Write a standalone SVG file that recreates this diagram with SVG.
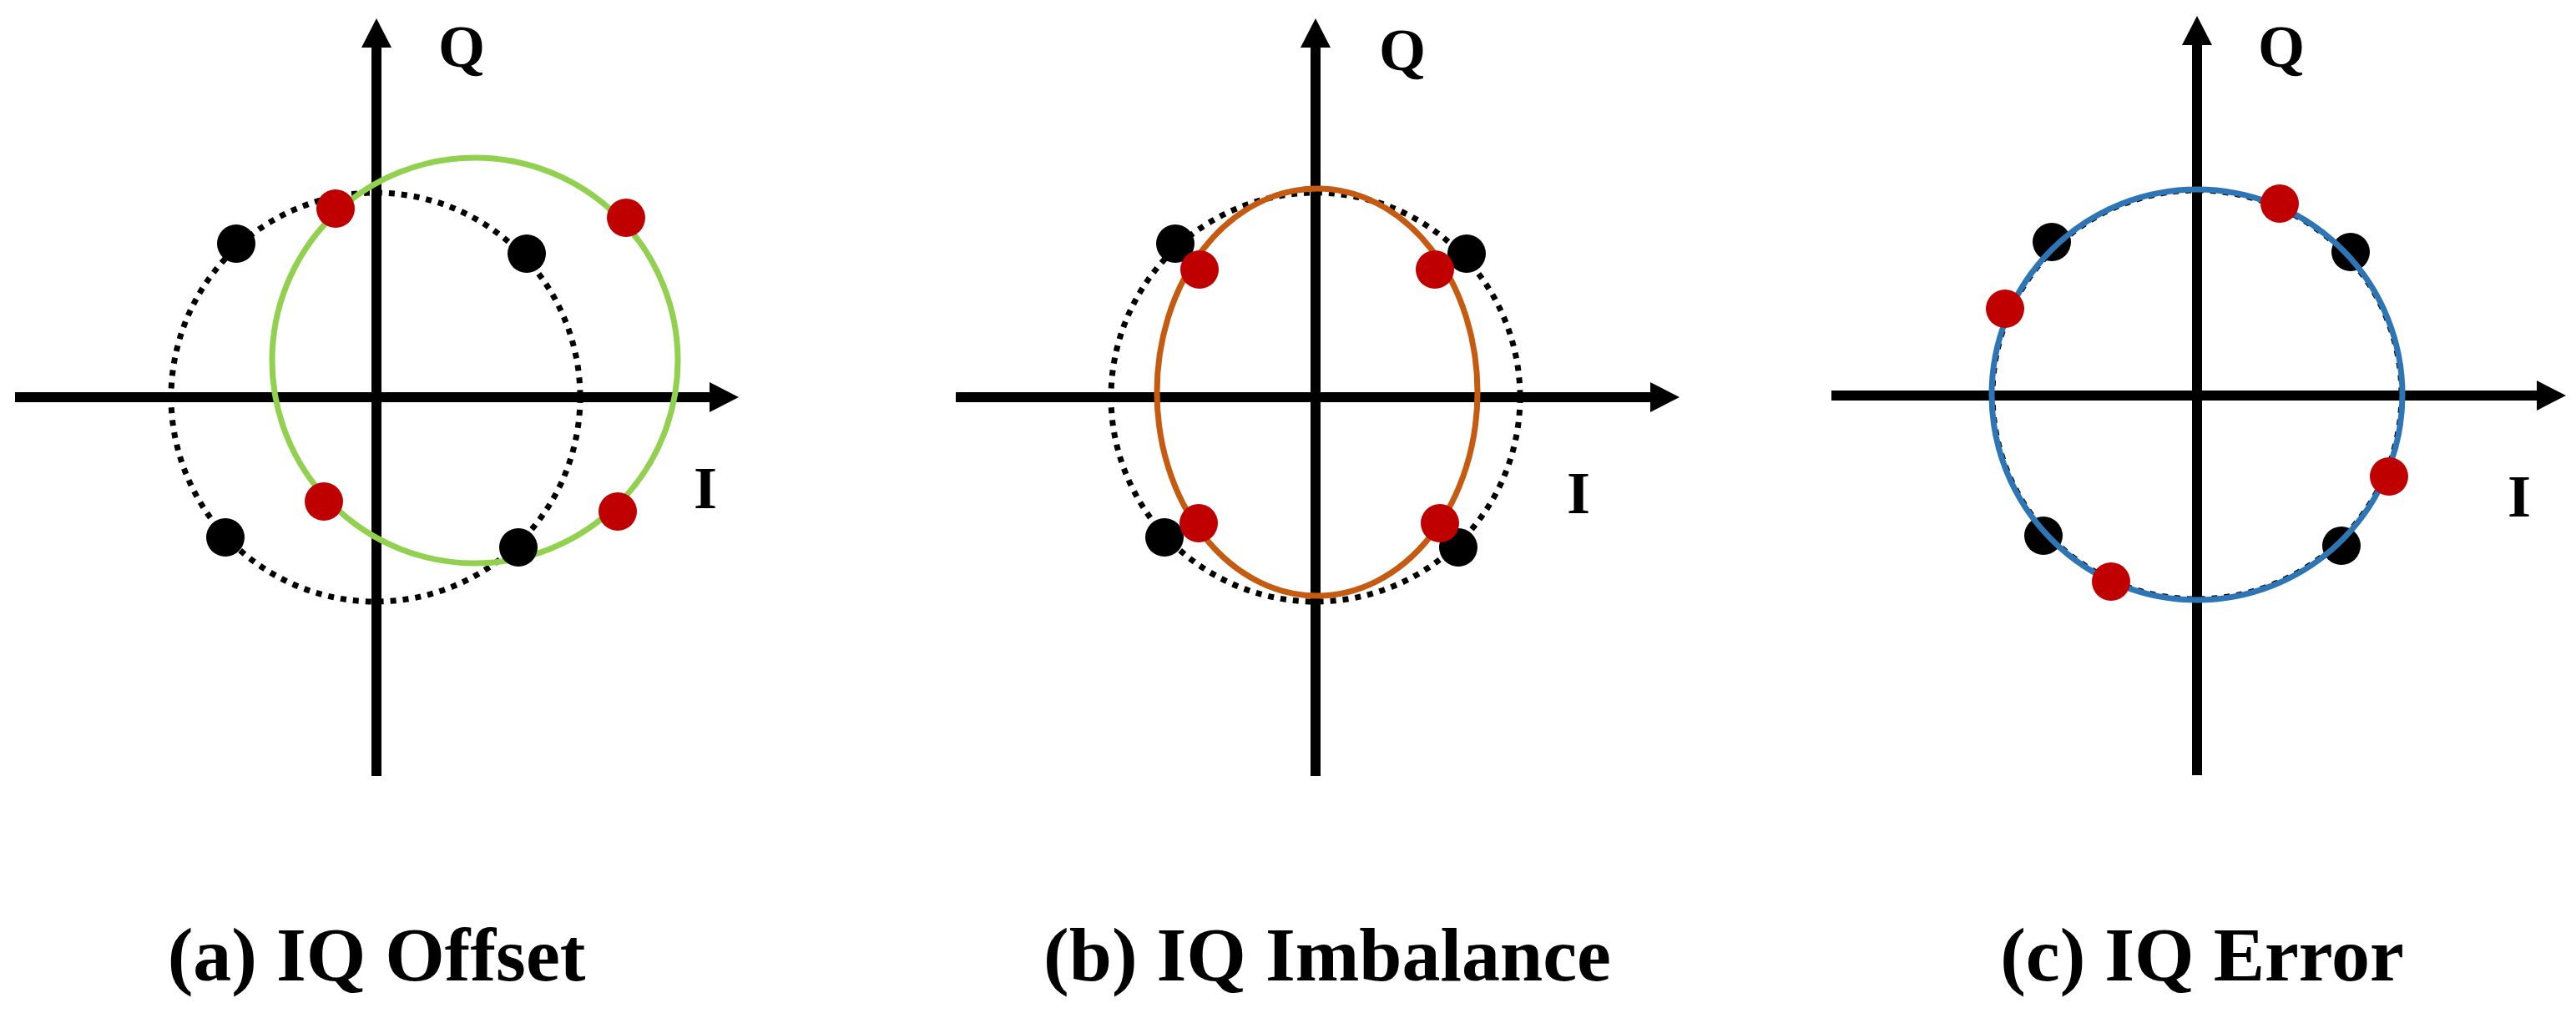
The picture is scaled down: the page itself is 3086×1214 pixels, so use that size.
<svg xmlns="http://www.w3.org/2000/svg" width="3086" height="1214" viewBox="0 0 3086 1214">
<style>
.axis{stroke:#000;stroke-width:12;fill:none;marker-end:url(#arr)}
.dot{fill:none;stroke:#000;stroke-width:7;stroke-dasharray:7 8}
.blk{fill:#000}
.red{fill:#C00000}
.lbl{font-family:"Liberation Serif","Times New Roman",serif;font-weight:bold;font-size:72px;fill:#000;text-anchor:middle}
.cap{font-family:"Liberation Serif","Times New Roman",serif;font-weight:bold;font-size:92px;fill:#000;text-anchor:middle}
</style>
<defs>
<marker id="arr" markerUnits="userSpaceOnUse" markerWidth="36" markerHeight="36" refX="0" refY="18" orient="auto">
<path d="M0,0 L35,18 L0,36 Z" fill="#000"/>
</marker>
</defs>
<rect width="3086" height="1214" fill="#fff"/>
<g id="connectors">
<line class="axis" x1="451" y1="930" x2="451" y2="57"/>
<line class="axis" x1="18" y1="476" x2="850" y2="476"/>
<line class="axis" x1="1576" y1="930" x2="1576" y2="57"/>
<line class="axis" x1="1145" y1="476" x2="1977" y2="476"/>
<line class="axis" x1="2632" y1="929" x2="2632" y2="54"/>
<line class="axis" x1="2194" y1="474" x2="3039" y2="474"/>
</g>
<g id="panel-a">
<circle class="dot" cx="450" cy="476" r="245"/>
<circle cx="569" cy="432" r="243" fill="none" stroke="#92D050" stroke-width="7"/>
<circle class="blk" cx="283" cy="292" r="23"/>
<circle class="blk" cx="631" cy="304" r="23"/>
<circle class="blk" cx="270" cy="644" r="23"/>
<circle class="blk" cx="621" cy="656" r="23"/>
<circle class="red" cx="402" cy="250" r="23"/>
<circle class="red" cx="750" cy="261" r="23"/>
<circle class="red" cx="388" cy="601" r="23"/>
<circle class="red" cx="740" cy="613" r="23"/>
<text class="lbl" x="553" y="80">Q</text>
<text class="lbl" x="845" y="609">I</text>
<text class="cap" x="451" y="1175">(a) IQ Offset</text>
</g>
<g id="panel-b">
<circle class="dot" cx="1576" cy="476" r="245"/>
<circle class="blk" cx="1408" cy="292" r="23"/>
<circle class="blk" cx="1757" cy="304" r="23"/>
<circle class="blk" cx="1395" cy="644" r="23"/>
<circle class="blk" cx="1747" cy="656" r="23"/>
<ellipse cx="1578" cy="470" rx="192" ry="244" fill="none" stroke="#C55A11" stroke-width="7"/>
<circle class="red" cx="1437" cy="323" r="23"/>
<circle class="red" cx="1719" cy="323" r="23"/>
<circle class="red" cx="1436" cy="627" r="23"/>
<circle class="red" cx="1725" cy="627" r="23"/>
<text class="lbl" x="1680" y="84">Q</text>
<text class="lbl" x="1891" y="615">I</text>
<text class="cap" x="1590" y="1175">(b) IQ Imbalance</text>
</g>
<g id="panel-c">
<circle class="dot" cx="2632" cy="473" r="245"/>
<circle class="blk" cx="2458" cy="290" r="23"/>
<circle class="blk" cx="2816" cy="302" r="23"/>
<circle class="blk" cx="2448" cy="642" r="23"/>
<circle class="blk" cx="2805" cy="654" r="23"/>
<circle cx="2632" cy="473" r="246" fill="none" stroke="#2E75B6" stroke-width="7"/>
<circle class="red" cx="2731" cy="244" r="23"/>
<circle class="red" cx="2402" cy="370" r="23"/>
<circle class="red" cx="2862" cy="571" r="23"/>
<circle class="red" cx="2529" cy="697" r="23"/>
<text class="lbl" x="2733" y="80">Q</text>
<text class="lbl" x="3018" y="619">I</text>
<text class="cap" x="2638" y="1175">(c) IQ Error</text>
</g>
</svg>
